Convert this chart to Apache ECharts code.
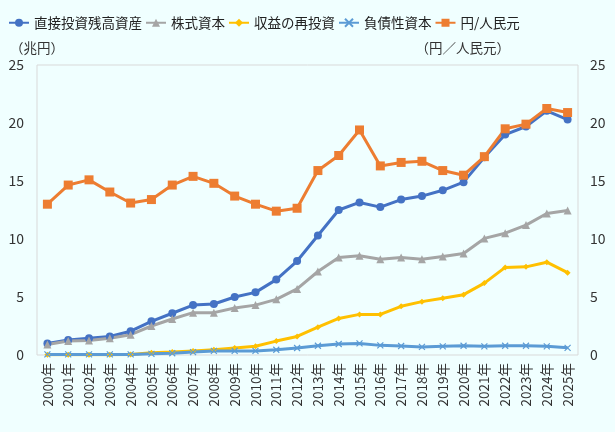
<!DOCTYPE html>
<html>
<head>
<meta charset="utf-8">
<script src="https://cdn.jsdelivr.net/npm/echarts@6/dist/echarts.min.js"></script>
<style>
  html, body { margin: 0; padding: 0; background: #f0ffff; }
  #chart { width: 615px; height: 432px; }
</style>
</head>
<body>
<div id="chart"></div>
<script>
var years = ['2000年', '2001年', '2002年', '2003年', '2004年', '2005年', '2006年', '2007年', '2008年', '2009年',
    '2010年', '2011年', '2012年', '2013年', '2014年', '2015年', '2016年', '2017年', '2018年', '2019年',
    '2020年', '2021年', '2022年', '2023年', '2024年', '2025年'];

// 兆円
var directInv = [1.0, 1.3, 1.45, 1.6, 2.05, 2.9, 3.6, 4.3, 4.4, 5.0, 5.4, 6.5, 8.1, 10.3, 12.5, 13.15, 12.75, 13.4, 13.7, 14.2, 14.9, 17.05, 19.0, 19.7, 21.05, 20.3];
var equity = [0.9, 1.2, 1.25, 1.45, 1.75, 2.5, 3.1, 3.65, 3.65, 4.05, 4.3, 4.8, 5.7, 7.2, 8.4, 8.55, 8.25, 8.4, 8.25, 8.5, 8.75, 10.05, 10.5, 11.2, 12.2, 12.45];
var reinvest = [0.02, 0.02, 0.02, 0.02, 0.05, 0.2, 0.25, 0.35, 0.45, 0.6, 0.75, 1.2, 1.6, 2.4, 3.15, 3.5, 3.5, 4.2, 4.6, 4.9, 5.2, 6.2, 7.55, 7.6, 8.0, 7.1];
var debt = [0.05, 0.05, 0.05, 0.05, 0.05, 0.1, 0.15, 0.25, 0.35, 0.35, 0.35, 0.45, 0.6, 0.8, 0.95, 1.0, 0.83, 0.78, 0.7, 0.75, 0.8, 0.75, 0.8, 0.8, 0.75, 0.62];
// 円/人民元
var yenCny = [13.0, 14.65, 15.1, 14.05, 13.1, 13.4, 14.65, 15.4, 14.8, 13.7, 13.0, 12.4, 12.65, 15.9, 17.2, 19.4, 16.3, 16.6, 16.7, 15.9, 15.5, 17.1, 19.5, 19.9, 21.25, 20.9];

var font = '"Noto Sans CJK JP", sans-serif';
var xMark = 'path://M0,0L10,10M10,0L0,10';

function lineSeries(name, data, color, symbol, size, axis) {
    return {
        name: name,
        type: 'line',
        data: data,
        yAxisIndex: axis,
        symbol: symbol,
        symbolSize: size,
        showAllSymbol: true,
        lineStyle: { color: color, width: 3 },
        itemStyle: { color: color, borderColor: color, borderWidth: symbol === xMark ? 1.2 : 0 },
        emphasis: { disabled: true }
    };
}

var chart = echarts.init(document.getElementById('chart'));
chart.setOption({
    backgroundColor: '#f0ffff',
    animation: false,
    textStyle: { fontFamily: font },
    legend: {
        left: 3,
        top: 11,
        itemWidth: 20,
        itemHeight: 10,
        itemGap: 3,
        textStyle: { fontFamily: font, fontSize: 13.5, color: '#222' },
        data: ['直接投資残高資産', '株式資本', '収益の再投資', '負債性資本', '円/人民元']
    },
    grid: {
        left: 37, right: 37, top: 65, bottom: 77,
        show: true, borderColor: '#d9d9d9', borderWidth: 1,
        backgroundColor: 'transparent'
    },
    xAxis: {
        type: 'category',
        data: years,
        boundaryGap: true,
        axisLine: { show: false },
        axisTick: { show: false },
        axisLabel: { rotate: 90, interval: 0, fontSize: 13.5, color: '#333', fontFamily: font, margin: 8 }
    },
    yAxis: [{
        type: 'value',
        min: 0, max: 25, interval: 5,
        name: '（兆円）',
        nameLocation: 'end',
        nameGap: 10,
        nameTextStyle: { fontSize: 13.5, color: '#333', fontFamily: font, align: 'center' },
        splitLine: { show: false },
        axisLine: { show: false },
        axisTick: { show: false },
        axisLabel: { fontSize: 14, color: '#333', fontFamily: font, margin: 13 }
    }, {
        type: 'value',
        min: 0, max: 25, interval: 5,
        position: 'right',
        name: '（円／人民元）',
        nameLocation: 'end',
        nameGap: 10,
        nameTextStyle: { fontSize: 13.5, color: '#333', fontFamily: font, align: 'right', padding: [0, 68, 0, 0] },
        splitLine: { show: false },
        axisLine: { show: false },
        axisTick: { show: false },
        axisLabel: { fontSize: 14, color: '#333', fontFamily: font, margin: 12 }
    }],
    series: [
        lineSeries('直接投資残高資産', directInv, '#4472c4', 'circle', 8, 0),
        lineSeries('株式資本', equity, '#a5a5a5', 'triangle', 8, 0),
        lineSeries('収益の再投資', reinvest, '#ffc000', 'diamond', 6, 0),
        lineSeries('負債性資本', debt, '#5b9bd5', xMark, 6, 0),
        lineSeries('円/人民元', yenCny, '#ed7d31', 'rect', 9, 1)
    ]
});
</script>
</body>
</html>
